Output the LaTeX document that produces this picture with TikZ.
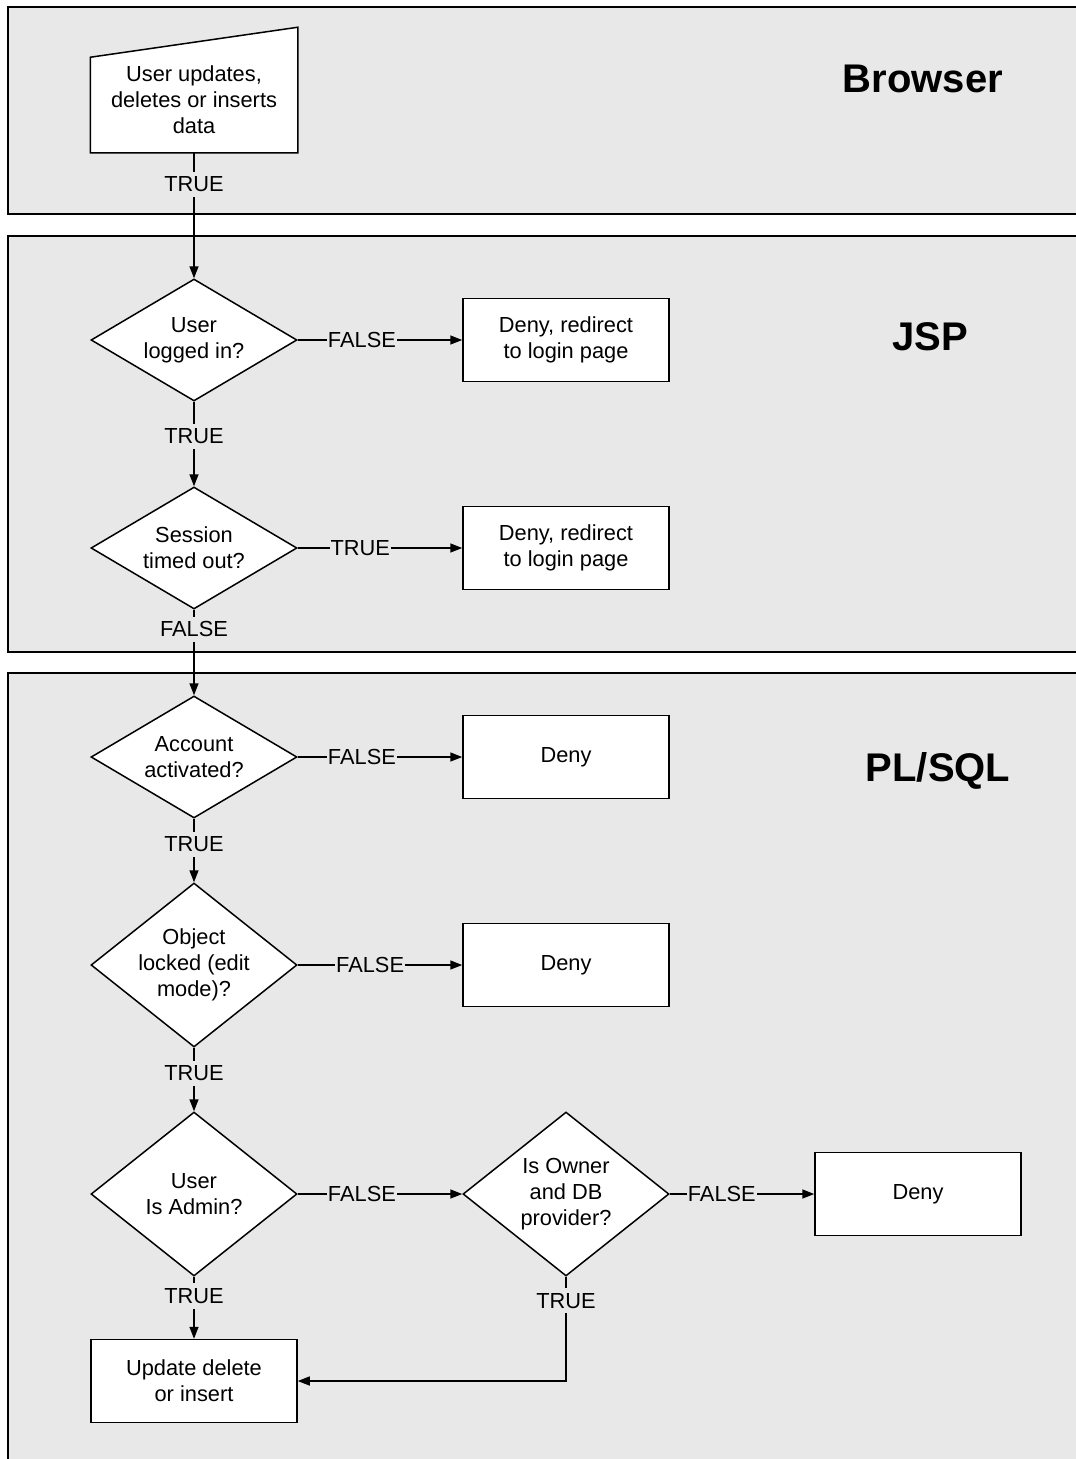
\documentclass[tikz,border=0pt]{standalone}
\usepackage{fontspec}
\setmainfont{Liberation Sans}
\usetikzlibrary{shapes.geometric,arrows.meta,calc}
\definecolor{lanegray}{HTML}{E8E8E8}
\begin{document}
\begin{tikzpicture}[x=1pt,y=-1pt,
  lane/.style={fill=lanegray,draw=black,line width=1.5pt},
  base/.style={font=\fontsize{21.8}{26}\selectfont,align=center},
  procbox/.style={base,draw,fill=white,line width=1.5pt,minimum width=206pt,minimum height=83pt,inner sep=0pt},
  decision/.style={base,diamond,draw,fill=white,line width=1.5pt,shape aspect=1.69,
    minimum width=206pt,minimum height=122pt,inner sep=0pt},
  tall/.style={shape aspect=1.256,minimum height=164pt,inner sep=-6pt},
  flow/.style={line width=1.5pt,-{Triangle[length=12pt,width=9pt]}},
  lbl/.style={base,fill=lanegray,inner xsep=1pt,inner ysep=5pt},
  lanetitle/.style={font=\fontsize{40}{48}\selectfont\bfseries}
]
\useasboundingbox (0,0) rectangle (1076,1459);

% swim lanes
\path[lane] (8,7) rectangle (1095,214);
\path[lane] (8,236) rectangle (1095,652);
\path[lane] (8,673) rectangle (1095,1480);

\node[lanetitle] (tbrowser) at (923,79) {Browser};
\node[lanetitle] (tjsp) at (930,337) {JSP};
\node[lanetitle] (tplsql) at (938,771) {PL/SQL};

% manual input
\node[procbox,draw=none,fill=none,minimum height=94pt] (input) at (194,105) {};
\draw[line width=1.5pt,fill=white] (input.south west) -- (input.south east)
  -- ($(input.north east)+(0,-30)$) -- (input.north west) -- cycle;
\node[base] (inputtext) at (194,100) {User updates,\\deletes or inserts\\data};

% JSP checks
\node[decision] (d1) at (194,340) {User\\logged in?};
\node[procbox] (b1) at (566,340) {Deny, redirect\\to login page};
\node[decision] (d2) at (194,548) {Session\\timed out?};
\node[procbox] (b2) at (566,548) {Deny, redirect\\to login page};

% PL/SQL checks
\node[decision] (d3) at (194,757) {Account\\activated?};
\node[procbox] (b3) at (566,757) {Deny};
\node[decision,tall] (d4) at (194,965) {Object\\locked (edit\\mode)?};
\node[procbox] (b4) at (566,965) {Deny};
\node[decision,tall] (d5) at (194,1194) {User\\Is Admin?};
\node[decision,tall] (d6) at (566,1194) {Is Owner\\and DB\\provider?};
\node[procbox] (b6) at (918,1194) {Deny};
\node[procbox] (final) at (194,1381) {Update delete\\or insert};

% connectors
\draw[flow] (input.south) -- node[lbl,pos=0.25]{TRUE} (d1.north);
\draw[flow] (d1.east) -- node[lbl,pos=0.39]{FALSE} (b1.west);
\draw[flow] (d1.south) -- node[lbl,pos=0.41]{TRUE} (d2.north);
\draw[flow] (d2.east) -- node[lbl,pos=0.38]{TRUE} (b2.west);
\draw[flow] (d2.south) -- node[lbl,pos=0.23]{FALSE} (d3.north);
\draw[flow] (d3.east) -- node[lbl,pos=0.39]{FALSE} (b3.west);
\draw[flow] (d3.south) -- node[lbl,pos=0.4]{TRUE} (d4.north);
\draw[flow] (d4.east) -- node[lbl,pos=0.44]{FALSE} (b4.west);
\draw[flow] (d4.south) -- node[lbl,pos=0.4]{TRUE} (d5.north);
\draw[flow] (d5.east) -- node[lbl,pos=0.39]{FALSE} (d6.west);
\draw[flow] (d6.east) -- node[lbl,pos=0.36]{FALSE} (b6.west);
\draw[flow] (d5.south) -- node[lbl,pos=0.31]{TRUE} (final.north);
\draw[flow] (d6.south) -- node[lbl,pos=0.23]{TRUE} (d6.south |- final.east) -- (final.east);
\end{tikzpicture}
\end{document}
